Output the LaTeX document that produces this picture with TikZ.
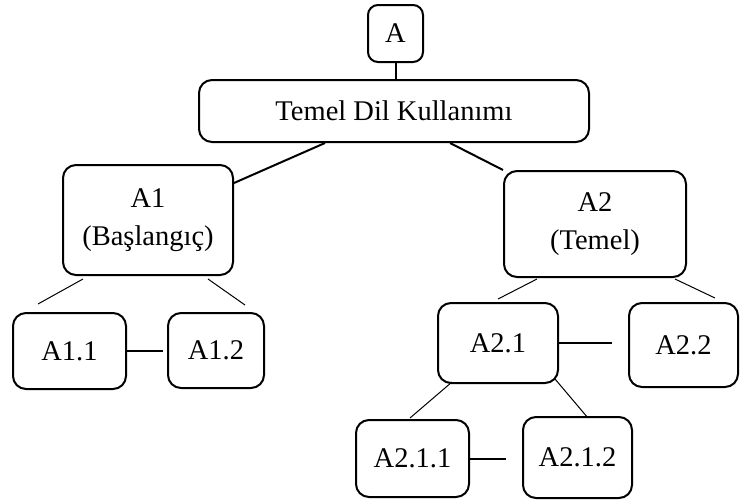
\documentclass[tikz,border=0pt]{standalone}
\usepackage{fontspec}
\setmainfont{Liberation Serif}
\begin{document}
\begin{tikzpicture}[x=1pt,y=-1pt,
  box/.style={draw,line width=2pt,rounded corners=13pt,inner sep=0pt,align=center,
    font=\fontsize{28.5}{38}\selectfont},
  thick link/.style={line width=2pt},
  thin link/.style={line width=1pt}]
\useasboundingbox (0,0) rectangle (741,499);
\node[box,rounded corners=10pt,minimum width=55pt,minimum height=57pt] (a) at (395.5,33.5) {A};
\node[box,minimum width=390pt,minimum height=62pt] (temel) at (394,111) {Temel Dil Kullanımı};
\node[box,minimum width=170pt,minimum height=110pt] (a1) at (148,220) {A1\\(Başlangıç)};
\node[box,minimum width=182pt,minimum height=106pt] (a2) at (595,224) {A2\\(Temel)};
\node[box,minimum width=113pt,minimum height=76pt] (a11) at (69.5,351) {A1.1};
\node[box,minimum width=96pt,minimum height=75pt] (a12) at (216,350.5) {A1.2};
\node[box,minimum width=120pt,minimum height=80pt] (a21) at (498,343) {A2.1};
\node[box,minimum width=109pt,minimum height=84pt] (a22) at (683.5,345) {A2.2};
\node[box,minimum width=113pt,minimum height=77pt] (a211) at (412.5,458.5) {A2.1.1};
\node[box,minimum width=109pt,minimum height=81pt] (a212) at (577.5,457.5) {A2.1.2};

\draw[thick link] (a.south) -- (a.south |- temel.north);
\draw[thick link] ([xshift=-69pt]temel.south) -- ([yshift=37pt]a1.east);
\draw[thick link] ([xshift=56pt]temel.south) -- (a2.north west);
\draw[thin link] ([xshift=-65pt,yshift=-3pt]a1.south) -- ([xshift=-31.5pt,yshift=8pt]a11.north);
\draw[thin link] ([xshift=60pt,yshift=-3pt]a1.south) -- ([xshift=29pt,yshift=7pt]a12.north);
\draw[thick link] (a11.east) -- ([xshift=-4pt]a12.west |- a11.east);
\draw[thin link] ([xshift=-58pt,yshift=-1pt]a2.south) -- ([yshift=3pt]a21.north);
\draw[thin link] ([xshift=80pt,yshift=-1pt]a2.south) -- ([xshift=31.5pt,yshift=4pt]a22.north);
\draw[thick link] (a21.east) -- ([xshift=-16pt]a22.west |- a21.east);
\draw[thin link] ([xshift=-46pt,yshift=2pt]a21.south) -- ([xshift=-2.5pt,yshift=1pt]a211.north);
\draw[thin link] ([xshift=57pt,yshift=5pt]a21.south) -- ([xshift=10.5pt,yshift=-2pt]a212.north);
\draw[thick link] (a211.east) -- ([xshift=-16pt]a212.west |- a211.east);
\end{tikzpicture}
\end{document}
